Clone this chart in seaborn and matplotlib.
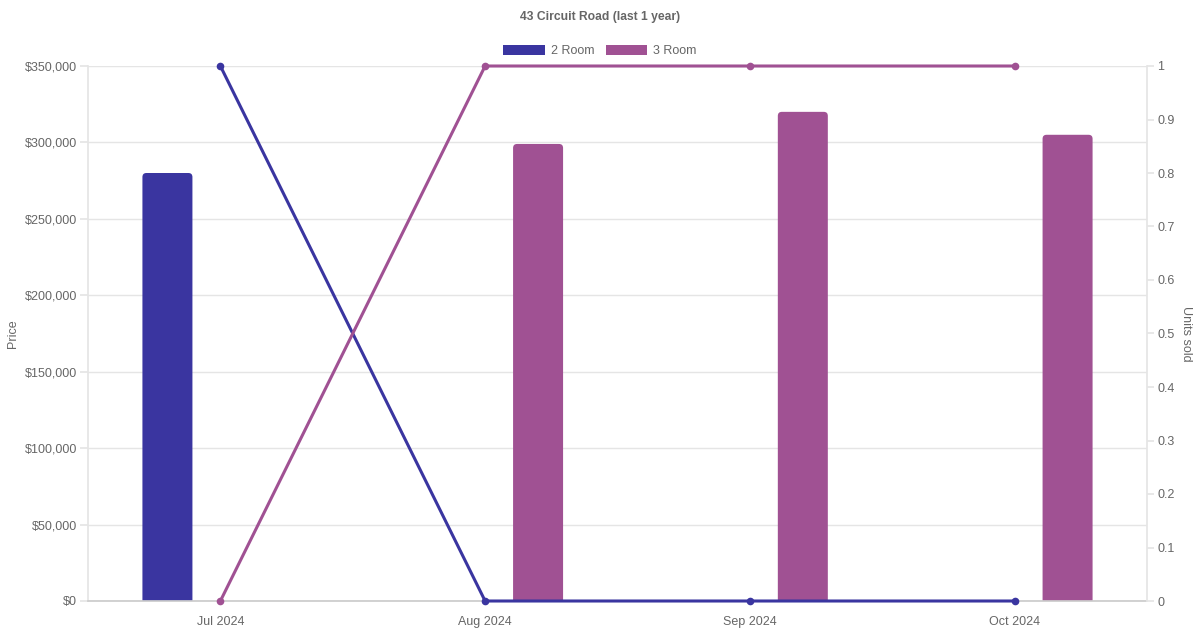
import numpy as np
import pandas as pd
import matplotlib
matplotlib.use("Agg")
import matplotlib.pyplot as plt
import seaborn as sns
from matplotlib.patches import FancyBboxPatch, Patch
from matplotlib.ticker import FuncFormatter, MultipleLocator

months = ["Jul 2024", "Aug 2024", "Sep 2024", "Oct 2024"]
rooms = ["2 Room", "3 Room"]
price_2room = [280000, np.nan, np.nan, np.nan]
price_3room = [np.nan, 299000, 320000, 305000]
units_2room = [1, 0, 0, 0]
units_3room = [0, 1, 1, 1]
colors = {"2 Room": "#3a35a0", "3 Room": "#a05193"}
title = "43 Circuit Road (last 1 year)"

sns.set_theme(style="white")
plt.rcParams["font.family"] = ["Liberation Sans", "DejaVu Sans"]

price_df = pd.DataFrame({
    "Month": months * 2,
    "Room": [rooms[0]] * 4 + [rooms[1]] * 4,
    "Price": price_2room + price_3room,
})
units_df = pd.DataFrame({
    "Month": months * 2,
    "Room": [rooms[0]] * 4 + [rooms[1]] * 4,
    "Units": units_2room + units_3room,
})

W, H = 1200, 630
L, R, T, B = 88, 1147, 66, 601
fig = plt.figure(figsize=(12, 6.3), dpi=100)
ax = fig.add_axes([L / W, 1 - B / H, (R - L) / W, (B - T) / H])

sns.barplot(data=price_df, x="Month", y="Price", hue="Room", order=months,
            hue_order=rooms, palette=colors, width=0.8, ax=ax, legend=False,
            saturation=1, err_kws={"linewidth": 0})

ymax = 350000
ax.set_ylim(0, ymax)
ax.set_xlim(-0.5, 3.5)

# narrow the bars and round the top corners
px_per_x = (R - L) / 4
px_per_y = (B - T) / ymax
bar_w = 50 / px_per_x
radius_px = 4
bars = []
for p in list(ax.patches):
    h = p.get_height()
    cx = p.get_x() + p.get_width() / 2
    fc = p.get_facecolor()
    p.remove()
    if np.isfinite(h) and h > 0:
        bars.append((cx, h, fc))

aspect = (1 / px_per_y) / (1 / px_per_x)
below = 20 / px_per_y
for cx, h, fc in bars:
    fb = FancyBboxPatch((cx - bar_w / 2, -below), bar_w, h + below,
                        boxstyle=f"round,pad=0,rounding_size={radius_px / px_per_x}",
                        mutation_aspect=aspect,
                        facecolor=fc, edgecolor="none", zorder=2)
    ax.add_patch(fb)

ax.yaxis.set_major_locator(MultipleLocator(50000))
ax.yaxis.set_major_formatter(FuncFormatter(lambda v, _: f"${v:,.0f}"))
ax.grid(axis="y", color="#e5e5e5", linewidth=1)
ax.set_axisbelow(True)
ax.tick_params(axis="y", length=5.8, color="#e5e5e5", labelsize=9, labelcolor="#666666", pad=2)
ax.tick_params(axis="x", length=0, labelsize=9, labelcolor="#666666", pad=10.5)
ax.set_xlabel("")
ax.set_ylabel("Price", fontsize=9, color="#666666", labelpad=4)
for s in ["top", "right"]:
    ax.spines[s].set_visible(False)
ax.spines["left"].set_color("#e5e5e5")
ax.spines["bottom"].set_color("#cccccc")

ax2 = ax.twinx()
sns.lineplot(data=units_df, x="Month", y="Units", hue="Room", hue_order=rooms,
             palette=colors, marker="o", markersize=5.5, markeredgewidth=0,
             linewidth=2.2, ax=ax2, legend=False, zorder=5)
ax2.set_ylim(0, 1)
ax2.set_xlim(-0.5, 3.5)
for line in ax2.lines:
    line.set_clip_on(False)


def unit_fmt(v, _):
    if abs(v) < 1e-9:
        return "0"
    if abs(v - 1) < 1e-9:
        return "1"
    return f"{v:.1f}"


ax2.yaxis.set_major_locator(MultipleLocator(0.1))
ax2.yaxis.set_major_formatter(FuncFormatter(unit_fmt))
ax2.tick_params(axis="y", length=5, color="#e5e5e5", labelsize=9, labelcolor="#666666", pad=2.5)
ax2.set_ylabel("Units sold", fontsize=9, color="#666666", rotation=270, labelpad=12.5)
for s in ["top", "left", "bottom"]:
    ax2.spines[s].set_visible(False)
ax2.spines["right"].set_color("#e5e5e5")
ax2.grid(False)

fig.text(0.5, 1 - 17 / H, title, ha="center", va="center", fontsize=8.7,
         fontweight="bold", color="#666666")

handles = [Patch(facecolor=colors[r], edgecolor="none", label=r) for r in rooms]
fig.legend(handles=handles, loc="center", bbox_to_anchor=(0.5, 1 - 51 / H),
           ncol=2, frameon=False, fontsize=9, handlelength=3.3, handleheight=0.9,
           handletextpad=0.5, columnspacing=0.9, labelcolor="#666666")

fig.savefig("out.png", dpi=100)
